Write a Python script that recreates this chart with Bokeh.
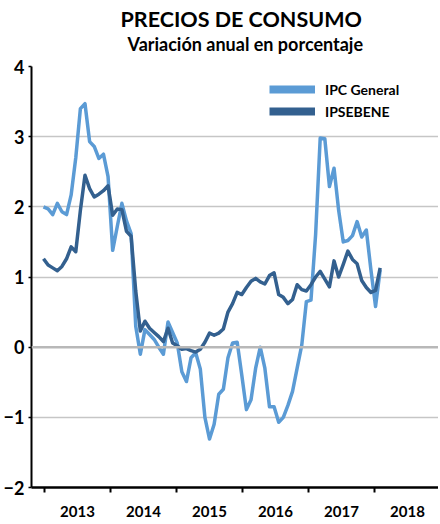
import numpy as np
from bokeh.plotting import figure
from bokeh.models import Range1d, FixedTicker, Title, Legend, LegendItem, Span, ColumnDataSource
from bokeh.embed import file_html
from bokeh.resources import INLINE

# ---------------- data (monthly) ----------------
year_labels = ["2013", "2014", "2015", "2016", "2017", "2018"]
y_ticks = [-2, -1, 0, 1, 2, 3, 4]
series_names = ["IPC General", "IPSEBENE"]

ipc_general = [
    2.00, 1.97, 1.89, 2.05, 1.93, 1.89, 2.17, 2.70, 3.40, 3.47, 2.93, 2.86,
    2.69, 2.75, 2.43, 1.38, 1.72, 2.05, 1.80, 1.62, 0.30, -0.10, 0.25, 0.18,
    0.11, 0.00, -0.10, 0.36, 0.21, 0.06, -0.35, -0.49, -0.15, -0.08, -0.31, -1.00,
    -1.31, -1.10, -0.67, -0.60, -0.15, 0.06, 0.07, -0.40, -0.89, -0.75, -0.30, 0.00,
    -0.30, -0.85, -0.85, -1.07, -1.00, -0.83, -0.63, -0.30, 0.03, 0.65, 0.67, 1.60,
    2.98, 2.97, 2.29, 2.55, 1.95, 1.50, 1.52, 1.59, 1.79, 1.57, 1.67, 1.10,
    0.58, 1.10,
]
ipsebene = [
    1.26, 1.17, 1.13, 1.09, 1.15, 1.26, 1.43, 1.36, 1.95, 2.45, 2.26, 2.14,
    2.18, 2.23, 2.30, 1.88, 1.97, 1.96, 1.65, 1.58, 0.80, 0.23, 0.37, 0.27,
    0.21, 0.15, 0.08, 0.27, 0.06, 0.02, -0.03, -0.02, -0.05, -0.07, -0.03, 0.07,
    0.20, 0.17, 0.20, 0.26, 0.50, 0.62, 0.78, 0.75, 0.85, 0.94, 0.98, 0.93,
    0.90, 1.02, 1.06, 0.75, 0.71, 0.62, 0.68, 0.89, 0.82, 0.80, 0.89, 1.00,
    1.08, 0.97, 0.86, 1.23, 1.00, 1.18, 1.37, 1.25, 1.19, 0.95, 0.85, 0.78,
    0.81, 1.13,
]

# ---------------- styling ----------------
FONT = "Lato"
LIGHT = "#5B9BD5"
DARK = "#33608F"

n = len(ipc_general)
src = ColumnDataSource(dict(m=list(range(n)), ipc=ipc_general, core=ipsebene))

p = figure(frame_width=407, frame_height=421, output_backend="svg", toolbar_location=None,
           x_range=Range1d(-2.6, 85.65), y_range=Range1d(y_ticks[0], y_ticks[-1]),
           min_border_left=25, min_border_right=0, min_border_top=59, min_border_bottom=35)
p.outline_line_color = None
p.background_fill_color = "white"
p.border_fill_color = "white"

# titles (first added sits next to the plot area)
p.add_layout(Title(text="Variación anual en porcentaje", align="left", offset=96,
                   text_font=FONT, text_font_size="18px", text_font_style="bold",
                   text_color="black", standoff=24), "above")
p.add_layout(Title(text="PRECIOS DE CONSUMO", align="left", offset=89,
                   text_font=FONT, text_font_size="21.5px", text_font_style="bold",
                   text_color="black", standoff=-26), "above")
# empty spacer at the very top
p.add_layout(Title(text=" ", text_font=FONT, text_font_size="1px", standoff=13), "above")

# grid
p.xgrid.grid_line_color = None
p.ygrid.ticker = FixedTicker(ticks=[t for t in y_ticks if t not in (y_ticks[0], 0, y_ticks[-1])])
p.ygrid.grid_line_color = "#c6c6c6"
p.ygrid.grid_line_width = 1.5
p.add_layout(Span(location=0, dimension="width", line_color="#b8b8b8", line_width=2.5))

# y axis
p.yaxis.ticker = FixedTicker(ticks=y_ticks)
p.yaxis.minor_tick_line_color = None
p.yaxis.axis_line_color = "black"
p.yaxis.axis_line_width = 2
p.yaxis.major_tick_line_color = "black"
p.yaxis.major_tick_line_width = 1.5
p.yaxis.major_tick_out = 3
p.yaxis.major_tick_in = 0
p.yaxis.major_label_standoff = 4
p.yaxis.major_label_text_font = FONT
p.yaxis.major_label_text_font_size = "18px"
p.yaxis.major_label_text_font_style = "bold"
p.yaxis.major_label_text_color = "black"

# x axis: tick marks at period boundaries, labels centred between them
step = 14.31
start = 0.22
bounds = [start + step * k for k in range(len(year_labels) + 1)]
mids = [start + step * (k + 0.5) for k in range(len(year_labels))]
p.xaxis.ticker = FixedTicker(ticks=mids, minor_ticks=bounds)
p.xaxis.major_label_overrides = {m: lab for m, lab in zip(mids, year_labels)}
p.xaxis.major_tick_line_color = None
p.xaxis.major_tick_out = 0
p.xaxis.major_tick_in = 0
p.xaxis.minor_tick_line_color = "black"
p.xaxis.minor_tick_line_width = 2
p.xaxis.minor_tick_out = 5
p.xaxis.minor_tick_in = 0
p.xaxis.axis_line_color = "black"
p.xaxis.axis_line_width = 2.5
p.xaxis.major_label_standoff = 13
p.xaxis.major_label_text_font = FONT
p.xaxis.major_label_text_font_size = "15px"
p.xaxis.major_label_text_font_style = "bold"
p.xaxis.major_label_text_color = "black"

# lines
p.line("m", "ipc", source=src, line_color=LIGHT, line_width=3.5, line_join="round")
p.line("m", "core", source=src, line_color=DARK, line_width=3.5, line_join="round")

# legend (thick swatches through hidden renderers)
r1 = p.line("m", "ipc", source=src, line_color=LIGHT, line_width=8, visible=False)
r2 = p.line("m", "core", source=src, line_color=DARK, line_width=8, visible=False)
legend = Legend(items=[LegendItem(label=series_names[0], renderers=[r1]),
                       LegendItem(label=series_names[1], renderers=[r2])],
                location=(238, 366), orientation="vertical",
                glyph_width=46, glyph_height=20, label_height=20, spacing=2,
                padding=0, margin=0, label_standoff=10,
                label_text_font=FONT, label_text_font_size="14px",
                label_text_font_style="bold", label_text_color="black",
                border_line_color=None, background_fill_alpha=0)
p.add_layout(legend, "center")

open("out.html", "w").write(file_html(p, INLINE))
